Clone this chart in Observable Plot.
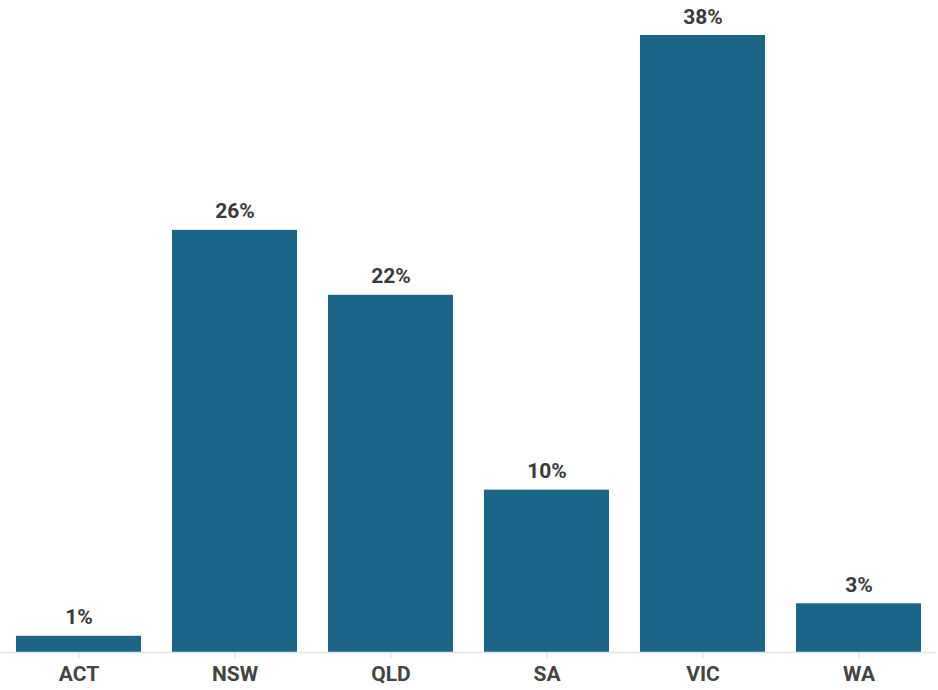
<!DOCTYPE html>
<html><head><meta charset="utf-8">
<script src="https://cdn.jsdelivr.net/npm/d3@7"></script>
<script src="https://cdn.jsdelivr.net/npm/@observablehq/plot@0.6"></script>
<style>
body{margin:0;background:#fff;}
#chart svg{display:block;}
</style>
</head><body><div id="chart"></div>
<script>
const states = ["ACT","NSW","QLD","SA","VIC","WA"];
const shares = [1,26,22,10,38,3];
const data = states.map((s,i)=>({state:s, value:shares[i]}));

const chart = Plot.plot({
  width: 938,
  height: 690,
  marginLeft: 0,
  marginRight: 2,
  marginTop: 35,
  marginBottom: 38,
  style: {fontFamily: "Roboto, sans-serif", background: "#fff"},
  x: {domain: states, paddingInner: 0.2, paddingOuter: 0.1, label: null},
  y: {domain: [0, 38], axis: null},
  marks: [
    Plot.barY(data, {x: "state", y: "value", fill: "#1b6688"}),
    Plot.ruleY([0], {stroke: "#e3e3e3", strokeWidth: 1.5}),
    Plot.axisX({tickSize: 6, stroke: "#dcdcdc", tickPadding: 8, fontSize: 21, fontWeight: "bold", fill: "#444", label: null}),
    Plot.text(data, {x: "state", y: "value", text: d => d.value + "%", dy: -12, lineAnchor: "bottom", fontSize: 21, fontWeight: "bold", fill: "#3a3a3a"})
  ]
});
document.getElementById("chart").appendChild(chart);
</script>
</body></html>
